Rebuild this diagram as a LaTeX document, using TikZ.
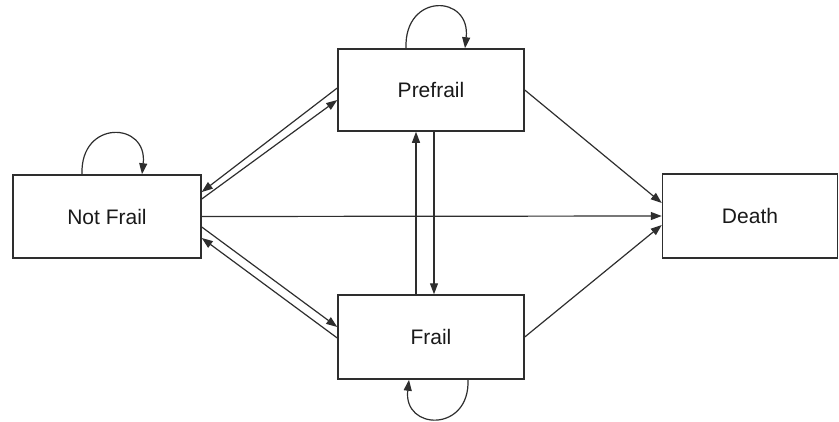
\documentclass[tikz,border=0pt]{standalone}
\usepackage{fontspec}
\setmainfont{Liberation Sans}
\usetikzlibrary{arrows.meta}
\definecolor{ink}{HTML}{2E2E2E}
\tikzset{
  statebox/.style={draw=ink, line width=1.5pt, rectangle, inner sep=0pt,
    font=\fontsize{21}{24}\selectfont, text=black!90},
  conn/.style={draw=ink, line width=1.2pt, -{Triangle[length=11pt,width=8pt]}},
}
\begin{document}
\begin{tikzpicture}[x=1pt,y=-1pt]
\useasboundingbox (0,0) rectangle (839,421);
\node[statebox, minimum width=188pt, minimum height=83pt] (nf) at (107,216.5) {Not Frail};
\node[statebox, minimum width=186pt, minimum height=82pt] (pre) at (431,90) {Prefrail};
\node[statebox, minimum width=186pt, minimum height=84pt] (fr) at (431,337) {Frail};
\node[statebox, minimum width=175pt, minimum height=84pt] (de) at (750,216) {Death};
% Not Frail <-> Prefrail
\draw[conn] ([yshift=2pt]pre.west) -- ([yshift=24.5pt]nf.east);
\draw[conn] ([yshift=17.5pt]nf.east) -- ([yshift=-10pt]pre.west);
% Not Frail -> Death
\draw[conn] (nf.east) -- (de.west);
% Not Frail <-> Frail
\draw[conn] ([yshift=-10.5pt]nf.east) -- ([yshift=10pt]fr.west);
\draw[conn] ([yshift=-1pt]fr.west) -- ([yshift=-21.5pt]nf.east);
% Prefrail <-> Frail
\draw[conn] ([xshift=-15pt]fr.north) -- ([xshift=-15pt]pre.south);
\draw[conn] ([xshift=3pt]pre.south) -- ([xshift=3pt]fr.north);
% to Death
\draw[conn] (pre.east) -- ([yshift=13pt]de.west);
\draw[conn] (fr.east) -- ([yshift=-9pt]de.west);
% self loops
\draw[conn] ([xshift=-25pt]pre.north) .. controls +(-2,-56) and +(6,-54) .. ([xshift=34pt]pre.north);
\draw[conn] ([xshift=-25pt]nf.north) .. controls +(-2,-55) and +(6,-53) .. ([xshift=35pt]nf.north);
\draw[conn] ([xshift=37pt]fr.south) .. controls +(2,53) and +(-6,51) .. ([xshift=-22pt]fr.south);
\end{tikzpicture}
\end{document}
